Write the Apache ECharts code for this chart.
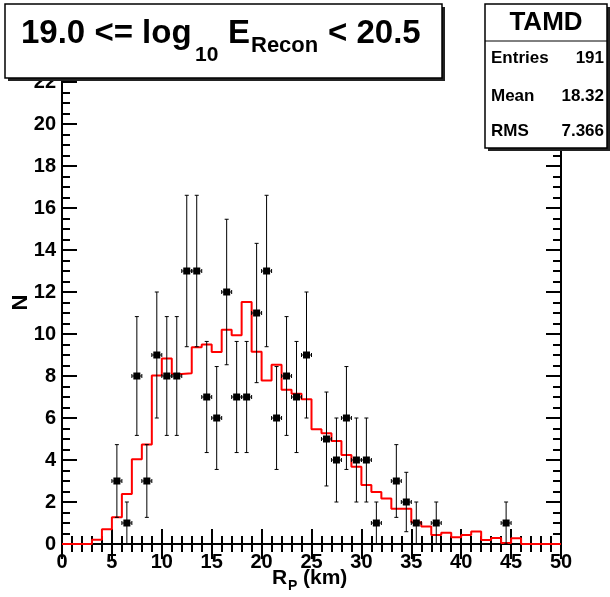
<!DOCTYPE html>
<html>
<head>
<meta charset="utf-8">
<script src="https://cdn.jsdelivr.net/npm/echarts@6/dist/echarts.min.js"></script>
<style>
  html, body { margin: 0; padding: 0; background: #fff; }
  #chart { width: 610px; height: 597px; }
</style>
</head>
<body>
<div id="chart"></div>
<script>
// histogram range, 1 km bins from 0 to 50
var xMin = 0, xMax = 50, binWidth = 1;
var yMax = 23;

// data counts per bin (bin k covers [k, k+1))
var dataCounts = [
    0, 0, 0, 0, 0, 3, 1, 8, 3, 9,
    8, 8, 13, 13, 7, 6, 12, 7, 7, 11,
    13, 6, 8, 7, 9, 0, 5, 4, 6, 4,
    4, 1, 0, 3, 2, 1, 0, 1, 0, 0,
    0, 0, 0, 0, 1, 0, 0, 0, 0, 0
];

// normalized simulation (red histogram)
var mcCounts = [
    0, 0, 0, 0.2, 0.7, 1.27, 2.38, 4.03, 4.74, 8.02,
    8.83, 8.1, 8.13, 9.37, 9.5, 9.14, 10.2, 9.94, 11.52, 9.16,
    7.78, 8.54, 7.35, 7.16, 6.89, 5.46, 5.27, 4.9, 4.24, 3.68,
    2.81, 2.48, 2.17, 1.68, 1.68, 1.03, 0.83, 0.43, 0.54, 0.32,
    0.43, 0.6, 0.19, 0.29, 0.05, 0.27, 0, 0, 0, 0
];

var statsLabels = ['Entries', 'Mean', 'RMS'];
var statsValues = ['191', '18.32', '7.366'];

var chart = echarts.init(document.getElementById('chart'));
var FONT = '"Liberation Sans", Arial, sans-serif';

// step line points at bin edges
var mcLine = mcCounts.map(function (v, i) { return [xMin + i * binWidth, v]; });
mcLine.push([xMax, mcCounts[mcCounts.length - 1]]);

// points only for non-empty bins (ROOT skips empty ones)
var points = [];
dataCounts.forEach(function (n, i) {
    if (n > 0) points.push([xMin + (i + 0.5) * binWidth, n]);
});

function renderPoint(params, api) {
    var x = api.value(0), y = api.value(1), e = Math.sqrt(y);
    var c = api.coord([x, y]);
    var lo = api.coord([x, y - e]);
    var hi = api.coord([x, y + e]);
    var l = api.coord([x - binWidth / 2, y]);
    var r = api.coord([x + binWidth / 2, y]);
    var st = { stroke: '#000', lineWidth: 1 };
    var s = 2; // serif half size
    return {
        type: 'group',
        children: [
            { type: 'line', shape: { x1: c[0], y1: lo[1], x2: c[0], y2: hi[1] }, style: st },
            { type: 'line', shape: { x1: c[0] - s, y1: lo[1], x2: c[0] + s, y2: lo[1] }, style: st },
            { type: 'line', shape: { x1: c[0] - s, y1: hi[1], x2: c[0] + s, y2: hi[1] }, style: st },
            { type: 'line', shape: { x1: l[0], y1: c[1], x2: r[0], y2: c[1] }, style: st },
            { type: 'line', shape: { x1: l[0], y1: c[1] - s, x2: l[0], y2: c[1] + s }, style: st },
            { type: 'line', shape: { x1: r[0], y1: c[1] - s, x2: r[0], y2: c[1] + s }, style: st },
            { type: 'rect', shape: { x: c[0] - 3.5, y: c[1] - 3.5, width: 7, height: 7 }, style: { fill: '#000' } }
        ]
    };
}

var axisLine = { show: true, lineStyle: { color: '#000', width: 2 } };
var labelStyle = { color: '#000', fontSize: 20, fontWeight: 'bold', fontFamily: FONT };

function yAxisDef(pos, step, len, withLabels) {
    return {
        type: 'value', position: pos, min: 0, max: yMax, interval: step,
        axisLine: withLabels !== null ? axisLine : { show: false },
        axisTick: { show: true, inside: true, length: len, lineStyle: { color: '#000', width: 2 } },
        axisLabel: withLabels ? Object.assign({ margin: 6, showMaxLabel: false }, labelStyle) : { show: false },
        splitLine: { show: false },
        name: withLabels ? 'N' : '',
        nameLocation: 'middle', nameGap: 30, nameMoveOverlap: false,
        nameTextStyle: { color: '#000', fontSize: 22, fontWeight: 'bold', fontFamily: FONT }
    };
}

function xAxisDef(pos, withLabels) {
    return {
        type: 'value', position: pos, min: xMin, max: xMax, interval: 5,
        axisLine: axisLine,
        axisTick: { show: true, inside: true, length: 15, lineStyle: { color: '#000', width: 2 } },
        minorTick: { show: true, splitNumber: 5, length: 8, lineStyle: { color: '#000', width: 2 } },
        axisLabel: withLabels ? Object.assign({ margin: 8 }, labelStyle) : { show: false },
        splitLine: { show: false }, minorSplitLine: { show: false }
    };
}

function txt(x, y, text, size, align) {
    return {
        type: 'text', z: 102,
        style: { x: x, y: y, text: text, fill: '#000', align: align || 'left', verticalAlign: 'middle',
                 font: 'bold ' + size + 'px ' + FONT }
    };
}

var graphics = [
    // title box
    { type: 'rect', z: 100, shape: { x: 8, y: 7, width: 437, height: 74 }, style: { fill: '#222' } },
    { type: 'rect', z: 101, shape: { x: 5, y: 4, width: 437, height: 74 }, style: { fill: '#fff', stroke: '#000', lineWidth: 1.5 } },
    txt(21, 34, '19.0 <= log', 33),
    txt(195, 55, '10', 21),
    txt(228, 34, 'E', 33),
    txt(251, 45.5, 'Recon', 22),
    txt(328, 34, '< 20.5', 33),
    // stats box
    { type: 'rect', z: 100, shape: { x: 488, y: 7, width: 122, height: 144 }, style: { fill: '#222' } },
    { type: 'rect', z: 101, shape: { x: 485, y: 4, width: 122, height: 144 }, style: { fill: '#fff', stroke: '#000', lineWidth: 1.5 } },
    { type: 'line', z: 102, shape: { x1: 485, y1: 41, x2: 607, y2: 41 }, style: { stroke: '#000', lineWidth: 1 } },
    txt(546, 23, 'TAMD', 26, 'center'),
    // x axis title with subscript
    txt(272, 578, 'R', 21),
    txt(288, 586, 'P', 14),
    txt(303, 578, '(km)', 21)
];
var rowY = [58, 96, 131];
statsLabels.forEach(function (s, i) {
    graphics.push(txt(491, rowY[i], s, 17));
    graphics.push(txt(604, rowY[i], statsValues[i], 17, 'right'));
});

var option = {
    backgroundColor: '#fff',
    animation: false,
    grid: { left: 62, right: 49, top: 61, bottom: 53, containLabel: false, outerBoundsMode: 'none' },
    xAxis: [xAxisDef('bottom', true), xAxisDef('top', false)],
    yAxis: [
        yAxisDef('left', 2, 15, true),
        yAxisDef('left', 0.5, 8, null),
        yAxisDef('right', 2, 15, false),
        yAxisDef('right', 0.5, 8, null)
    ],
    series: [
        {
            name: 'MC', type: 'line', step: 'end', data: mcLine,
            showSymbol: false, symbol: 'none',
            lineStyle: { color: '#ff0000', width: 2 }, z: 3
        },
        {
            name: 'Data', type: 'custom', data: points, renderItem: renderPoint, z: 4
        }
    ],
    graphic: graphics
};
chart.setOption(option);
</script>
</body>
</html>
